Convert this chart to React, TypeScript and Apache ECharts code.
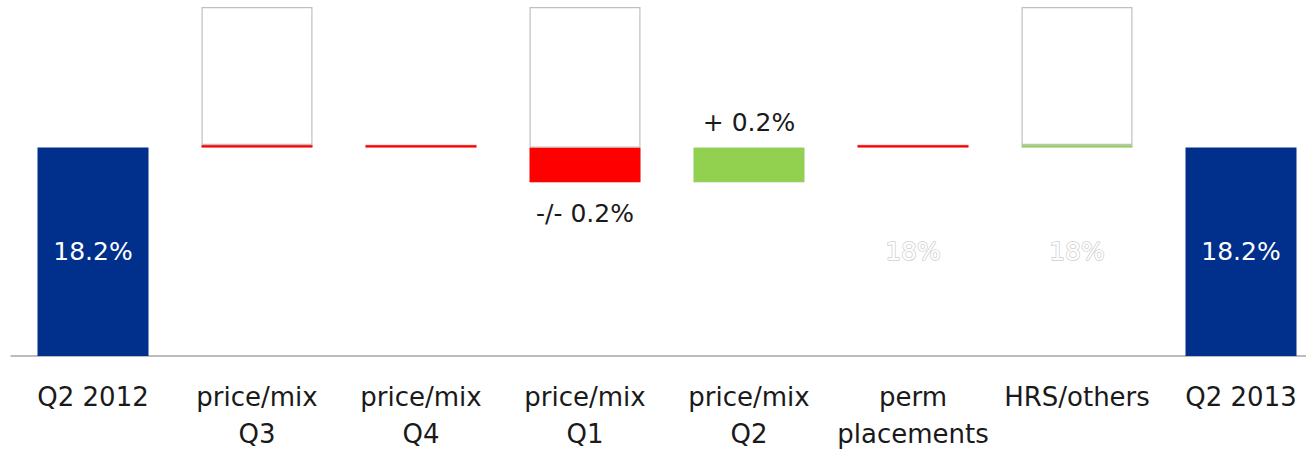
import React, { useEffect, useRef } from "react";
import * as echarts from "echarts";

const categories = [
  "Q2 2012",
  "price/mix\nQ3",
  "price/mix\nQ4",
  "price/mix\nQ1",
  "price/mix\nQ2",
  "perm\nplacements",
  "HRS/others",
  "Q2 2013",
];
const totalValues: (number | string)[] = [18.2, "-", "-", "-", "-", "-", "-", 18.2];
const totalLabels = ["18.2%", "", "", "", "", "", "", "18.2%"];
const baseValues: (number | string)[] = ["-", 18.2, 18.2, 18.0, 18.0, 18.2, 18.2, "-"];
const baseLabels = ["", "", "", "", "", "18%", "18%", ""];
const decreaseValues: (number | string)[] = ["-", 0.015, 0.015, 0.2, "-", 0.015, "-", "-"];
const decreaseLabels = ["", "", "", "-/- 0.2%", "", "", "", ""];
const increaseValues: (number | string)[] = ["-", "-", "-", "-", 0.2, "-", 0.015, "-"];
const increaseLabels = ["", "", "", "", "+ 0.2%", "", "", ""];
const boxValues: (number | string)[] = ["-", 0.795, "-", 0.81, "-", "-", 0.795, "-"];

const FONT = "DejaVu Sans";

export default function App() {
  const ref = useRef<HTMLDivElement>(null);
  useEffect(() => {
    if (!ref.current) return;
    const chart = echarts.init(ref.current, null, { renderer: "svg" });
    const barWidth = 111;
    chart.setOption({
      animation: false,
      grid: { left: 11, right: 7, top: 0, bottom: 94 },
      xAxis: {
        type: "category",
        data: categories,
        axisLine: { lineStyle: { color: "#a6a6a6", width: 1.5 } },
        axisTick: { length: 6, lineStyle: { color: "#a6a6a6", width: 1.5 } },
        axisLabel: {
          interval: 0,
          fontFamily: FONT,
          fontSize: 26,
          lineHeight: 37,
          color: "#1a1a1a",
          margin: 22,
        },
      },
      yAxis: {
        type: "value",
        min: 17,
        max: 19.05,
        show: false,
        splitLine: { show: false },
      },
      series: [
        {
          name: "total",
          type: "bar",
          stack: "w",
          barWidth,
          clip: true,
          data: totalValues,
          itemStyle: { color: "#00308C" },
          label: {
            show: true,
            position: "inside",
            color: "#ffffff",
            fontFamily: FONT,
            fontSize: 25,
            formatter: (p: any) => totalLabels[p.dataIndex],
          },
        },
        {
          name: "base",
          type: "bar",
          stack: "w",
          barWidth,
          clip: true,
          data: baseValues.map((v, i) =>
            baseLabels[i]
              ? {
                  value: v,
                  label: {
                    show: true,
                    position: "inside",
                    color: "#ffffff",
                    textBorderColor: "#cfcfcf",
                    textBorderWidth: 1.5,
                    fontFamily: FONT,
                    fontSize: 25,
                    formatter: baseLabels[i],
                  },
                }
              : v
          ),
          itemStyle: { color: "rgba(0,0,0,0)" },
          emphasis: { disabled: true },
        },
        {
          name: "decrease",
          type: "bar",
          stack: "w",
          barWidth,
          clip: true,
          data: decreaseValues,
          itemStyle: { color: "#FF0000", borderColor: "#E01010", borderWidth: 0.5 },
          label: {
            show: true,
            position: "bottom",
            distance: 19,
            color: "#1a1a1a",
            fontFamily: FONT,
            fontSize: 25,
            formatter: (p: any) => decreaseLabels[p.dataIndex],
          },
        },
        {
          name: "increase",
          type: "bar",
          stack: "w",
          barWidth,
          clip: true,
          data: increaseValues,
          itemStyle: { color: "#92D050", borderColor: "#9ac87a", borderWidth: 0.5 },
          label: {
            show: true,
            position: "top",
            distance: 13,
            color: "#1a1a1a",
            fontFamily: FONT,
            fontSize: 25,
            formatter: (p: any) => increaseLabels[p.dataIndex],
          },
        },
        {
          name: "box",
          type: "bar",
          stack: "w",
          barWidth,
          clip: true,
          data: boxValues,
          itemStyle: { color: "#ffffff", borderColor: "#bfbfbf", borderWidth: 1.2 },
        },
      ],
    });
    return () => chart.dispose();
  }, []);
  return (
    <div
      ref={ref}
      style={{ position: "fixed", left: 0, top: 0, width: 1330, height: 452, background: "#fff" }}
    />
  );
}
